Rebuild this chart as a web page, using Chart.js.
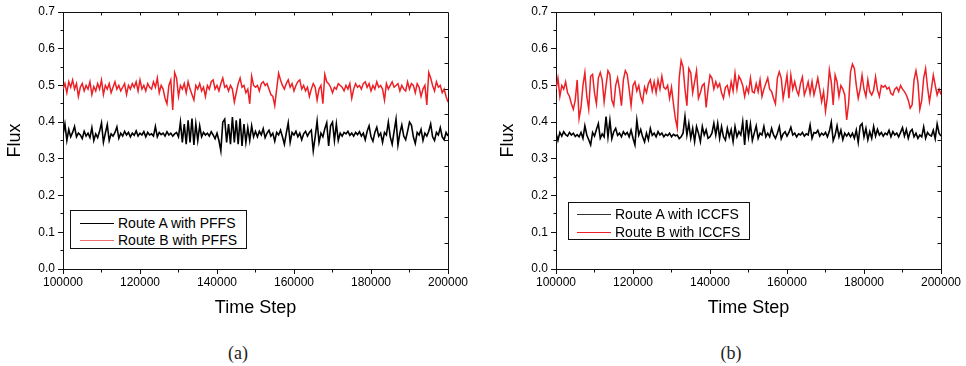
<!DOCTYPE html>
<html><head><meta charset="utf-8">
<script src="https://cdn.jsdelivr.net/npm/chart.js@4.4.1/dist/chart.umd.min.js"></script>
<style>
html,body{margin:0;padding:0;background:#fff;}
#wrap{position:relative;width:966px;height:366px;overflow:hidden;font-family:"Liberation Sans",Arial,sans-serif;}
canvas{position:absolute;top:0;}
.legend{position:absolute;border:1px solid #111;background:#fff;box-sizing:border-box;}
.row{position:absolute;left:0;height:18px;font-size:14px;line-height:18px;white-space:nowrap;color:#000;}
.row span{position:absolute;top:0;}
.sw{position:absolute;top:9px;height:0;border-top:1px solid;}
.cap{position:absolute;top:341px;width:60px;text-align:center;font-family:"Liberation Serif","DejaVu Serif",serif;font-size:18px;line-height:24px;color:#222;}
</style></head>
<body>
<div id="wrap">
  <canvas id="ca" width="483" height="320" style="left:0"></canvas>
  <canvas id="cb" width="483" height="320" style="left:483px"></canvas>
  <div class="legend" style="left:70px;top:210px;width:177px;height:39px">
    <div class="row" style="top:2.7px"><div class="sw" style="left:9px;width:34px;border-color:#000"></div><span style="left:47px">Route A with PFFS</span></div>
    <div class="row" style="top:20.3px"><div class="sw" style="left:9px;width:34px;border-color:rgb(240,110,110)"></div><span style="left:47px">Route B with PFFS</span></div>
  </div>
  <div class="legend" style="left:568px;top:202px;width:182px;height:38px">
    <div class="row" style="top:1.7px"><div class="sw" style="left:8px;width:34px;border-color:#333"></div><span style="left:46px">Route A with ICCFS</span></div>
    <div class="row" style="top:19.7px"><div class="sw" style="left:8px;width:34px;border-color:rgb(236,32,38)"></div><span style="left:46px">Route B with ICCFS</span></div>
  </div>
  <div class="cap" style="left:208px">(a)</div>
  <div class="cap" style="left:701px">(b)</div>
</div>
<script>
const START = 100000, STEP = 500;
const xTickLabels = ['100000','120000','140000','160000','180000','200000'];
const yTickLabels = ['0.0','0.1','0.2','0.3','0.4','0.5','0.6','0.7'];

const redA = [
0.49,0.505,0.48,0.51,0.495,0.515,0.49,0.505,0.47,0.495,
0.505,0.485,0.5,0.49,0.51,0.475,0.497,0.485,0.505,0.49,
0.515,0.475,0.5,0.49,0.505,0.48,0.495,0.51,0.49,0.5,
0.485,0.495,0.505,0.475,0.5,0.49,0.505,0.495,0.51,0.485,
0.515,0.49,0.5,0.485,0.505,0.495,0.49,0.51,0.495,0.52,
0.48,0.5,0.49,0.465,0.45,0.5,0.515,0.433,0.535,0.52,
0.47,0.5,0.49,0.505,0.48,0.51,0.49,0.475,0.46,0.5,
0.49,0.505,0.485,0.495,0.47,0.5,0.49,0.51,0.515,0.49,
0.5,0.485,0.505,0.52,0.495,0.5,0.485,0.5,0.49,0.455,
0.48,0.505,0.52,0.495,0.5,0.48,0.49,0.45,0.525,0.5,
0.495,0.5,0.485,0.505,0.51,0.5,0.505,0.49,0.475,0.47,
0.445,0.49,0.533,0.515,0.5,0.49,0.505,0.515,0.495,0.505,
0.485,0.5,0.51,0.515,0.49,0.5,0.485,0.495,0.47,0.49,
0.505,0.495,0.46,0.49,0.5,0.45,0.53,0.51,0.505,0.495,
0.48,0.495,0.49,0.505,0.5,0.495,0.485,0.5,0.49,0.505,
0.465,0.49,0.505,0.495,0.5,0.49,0.505,0.51,0.495,0.505,
0.485,0.5,0.49,0.51,0.495,0.5,0.49,0.46,0.505,0.49,
0.5,0.51,0.495,0.5,0.505,0.485,0.5,0.49,0.485,0.51,
0.49,0.505,0.5,0.48,0.505,0.495,0.47,0.49,0.5,0.447,
0.535,0.52,0.5,0.485,0.51,0.495,0.5,0.48,0.49,0.47,0.455];

const blackA = [
0.365,0.395,0.35,0.38,0.36,0.372,0.388,0.36,0.37,0.365,
0.355,0.375,0.362,0.37,0.358,0.385,0.35,0.368,0.358,0.375,
0.398,0.345,0.37,0.393,0.35,0.368,0.362,0.372,0.387,0.356,
0.37,0.362,0.375,0.365,0.372,0.36,0.37,0.364,0.376,0.362,
0.37,0.365,0.374,0.36,0.372,0.365,0.368,0.362,0.388,0.36,
0.372,0.366,0.37,0.362,0.374,0.365,0.37,0.362,0.368,0.372,
0.36,0.4,0.345,0.395,0.34,0.405,0.345,0.41,0.338,0.395,
0.35,0.39,0.36,0.372,0.365,0.37,0.362,0.374,0.365,0.355,
0.37,0.35,0.322,0.4,0.408,0.345,0.395,0.34,0.414,0.345,
0.405,0.34,0.41,0.335,0.395,0.345,0.385,0.35,0.39,0.36,
0.375,0.36,0.375,0.365,0.382,0.358,0.37,0.378,0.362,0.37,
0.348,0.372,0.365,0.378,0.36,0.34,0.37,0.398,0.345,0.372,
0.365,0.375,0.36,0.37,0.352,0.368,0.375,0.362,0.372,0.378,
0.322,0.36,0.403,0.345,0.37,0.36,0.382,0.398,0.335,0.39,
0.4,0.35,0.395,0.35,0.37,0.362,0.372,0.368,0.375,0.364,
0.37,0.362,0.372,0.366,0.374,0.362,0.37,0.352,0.375,0.39,
0.36,0.348,0.372,0.386,0.362,0.37,0.345,0.372,0.365,0.4,
0.36,0.34,0.375,0.408,0.338,0.37,0.392,0.362,0.352,0.375,
0.4,0.392,0.36,0.342,0.372,0.365,0.38,0.35,0.37,0.362,
0.375,0.395,0.36,0.35,0.372,0.365,0.385,0.36,0.352,0.372,0.362];

const redB = [
0.49,0.52,0.47,0.50,0.49,0.51,0.48,0.47,0.45,0.435,
0.46,0.515,0.41,0.44,0.50,0.535,0.47,0.435,0.525,0.53,
0.48,0.45,0.52,0.535,0.515,0.455,0.50,0.54,0.53,0.46,
0.445,0.50,0.52,0.49,0.445,0.515,0.54,0.53,0.49,0.445,
0.50,0.51,0.485,0.50,0.47,0.455,0.495,0.48,0.505,0.515,
0.485,0.51,0.48,0.515,0.49,0.525,0.495,0.49,0.50,0.465,
0.495,0.45,0.41,0.384,0.52,0.568,0.55,0.49,0.445,0.546,
0.535,0.48,0.51,0.54,0.465,0.48,0.50,0.505,0.44,0.49,
0.528,0.52,0.49,0.51,0.495,0.505,0.48,0.465,0.495,0.50,
0.475,0.51,0.485,0.533,0.49,0.525,0.515,0.50,0.47,0.495,
0.48,0.52,0.483,0.48,0.505,0.483,0.515,0.47,0.49,0.505,
0.52,0.49,0.483,0.465,0.45,0.52,0.537,0.52,0.465,0.495,
0.528,0.465,0.528,0.49,0.51,0.487,0.474,0.505,0.523,0.474,
0.49,0.51,0.478,0.51,0.474,0.495,0.52,0.49,0.456,0.483,
0.43,0.47,0.542,0.51,0.447,0.528,0.51,0.47,0.50,0.49,
0.474,0.406,0.45,0.537,0.558,0.546,0.50,0.465,0.49,0.528,
0.49,0.47,0.515,0.483,0.474,0.487,0.523,0.487,0.47,0.50,
0.495,0.50,0.49,0.495,0.478,0.474,0.49,0.495,0.483,0.50,
0.49,0.483,0.474,0.46,0.438,0.447,0.515,0.54,0.51,0.435,
0.46,0.52,0.546,0.495,0.456,0.49,0.528,0.50,0.474,0.49,0.475];

const blackB = [
0.37,0.35,0.372,0.362,0.374,0.366,0.362,0.372,0.365,0.37,
0.361,0.366,0.36,0.372,0.356,0.39,0.365,0.352,0.338,0.372,
0.362,0.38,0.396,0.356,0.368,0.36,0.415,0.36,0.405,0.355,
0.374,0.383,0.364,0.37,0.36,0.374,0.366,0.372,0.36,0.378,
0.356,0.338,0.405,0.365,0.38,0.36,0.346,0.37,0.352,0.383,
0.364,0.37,0.36,0.374,0.365,0.37,0.36,0.367,0.363,0.37,
0.36,0.367,0.363,0.365,0.355,0.36,0.37,0.415,0.365,0.397,
0.356,0.383,0.347,0.388,0.37,0.347,0.388,0.365,0.379,0.356,
0.36,0.37,0.397,0.365,0.397,0.356,0.388,0.36,0.351,0.383,
0.36,0.379,0.347,0.388,0.36,0.374,0.365,0.401,0.338,0.406,
0.36,0.395,0.35,0.37,0.39,0.356,0.37,0.365,0.388,0.36,
0.37,0.36,0.383,0.365,0.356,0.37,0.388,0.355,0.368,0.374,
0.362,0.372,0.386,0.365,0.37,0.36,0.368,0.365,0.372,0.362,
0.368,0.365,0.392,0.356,0.372,0.37,0.378,0.362,0.37,0.365,
0.372,0.36,0.375,0.4,0.35,0.365,0.39,0.36,0.378,0.352,
0.37,0.362,0.37,0.36,0.37,0.356,0.378,0.345,0.39,0.396,
0.36,0.383,0.352,0.374,0.356,0.388,0.362,0.38,0.365,0.372,
0.362,0.37,0.366,0.378,0.36,0.374,0.365,0.37,0.36,0.372,
0.385,0.362,0.38,0.356,0.374,0.38,0.36,0.37,0.356,0.365,
0.36,0.387,0.356,0.372,0.365,0.362,0.378,0.355,0.395,0.37,0.362];

Chart.defaults.font.family = "'Liberation Sans', Arial, sans-serif";
Chart.defaults.color = '#000';

const toPts = arr => arr.map((v, i) => ({x: START + i * STEP, y: v}));

const framePlugin = {
  id: 'frame',
  afterDraw(chart) {
    const {ctx, chartArea: a, scales: {x, y}} = chart;
    const al = p => Math.round(p - 0.5) + 0.5;
    ctx.save();
    ctx.strokeStyle = '#111';
    ctx.lineWidth = 1;
    ctx.beginPath();
    const T = al(a.top), R = al(a.right), L = al(a.left), B = al(a.bottom);
    ctx.moveTo(L, T); ctx.lineTo(R, T); ctx.lineTo(R, B);
    for (let v = 110000; v < 200000; v += 10000) {
      const px = al(x.getPixelForValue(v));
      ctx.moveTo(px, T); ctx.lineTo(px, T + 3);
    }
    for (let v = 110000; v < 200000; v += 20000) {
      const px = al(x.getPixelForValue(v));
      ctx.moveTo(px, B); ctx.lineTo(px, B + 3);
    }
    for (let v = 0.05; v < 0.7; v += 0.1) {
      const py = al(y.getPixelForValue(v));
      ctx.moveTo(L, py); ctx.lineTo(L - 3, py);
    }
    for (let k = 1; k < 10; k++) {
      const py = al(y.getPixelForValue(0.07 * k));
      ctx.moveTo(R, py); ctx.lineTo(R - 4, py);
    }
    ctx.stroke();
    ctx.restore();
  }
};

function makeChart(id, black, red, yW, rightPad, titlePad, blackColor) {
  return new Chart(document.getElementById(id), {
    type: 'line',
    data: {
      datasets: [
        {data: toPts(black), borderColor: blackColor, borderWidth: 1.6, pointRadius: 0, tension: 0},
        {data: toPts(red), borderColor: 'rgb(236,32,38)', borderWidth: 1.5, pointRadius: 0, tension: 0}
      ]
    },
    options: {
      responsive: false,
      animation: false,
      devicePixelRatio: 1,
      layout: {padding: {left: 0, right: rightPad, top: 12, bottom: 1}},
      plugins: {legend: {display: false}, tooltip: {enabled: false}},
      scales: {
        x: {
          type: 'linear', min: 100000, max: 200000,
          afterFit(s) { s.height = 50; },
          ticks: {stepSize: 20000, autoSkip: false, maxRotation: 0, padding: 1, color: '#000',
                  font: {size: 12},
                  callback: (v) => { const i = xTickLabels.indexOf(String(v)); return i >= 0 ? xTickLabels[i] : ''; }},
          grid: {drawOnChartArea: false, tickLength: 5, color: '#111'},
          border: {color: '#111', width: 1},
          title: {display: true, text: 'Time Step', font: {size: 18}, color: '#000', padding: {top: 0, bottom: 0}}
        },
        y: {
          type: 'linear', min: 0, max: 0.7,
          afterFit(s) { s.width = yW; },
          ticks: {stepSize: 0.1, padding: 3, color: '#000', font: {size: 12},
                  callback: (v) => yTickLabels[Math.round(v * 10)]},
          grid: {drawOnChartArea: false, tickLength: 5, color: '#111'},
          border: {color: '#111', width: 1},
          title: {display: true, text: 'Flux', font: {size: 18}, color: '#000', padding: {top: titlePad, bottom: 0}}
        }
      }
    },
    plugins: [framePlugin]
  });
}

makeChart('ca', blackA, redA, 63, 35, 4, '#000');
makeChart('cb', blackB, redB, 73, 25, 14, '#000');
</script>
</body></html>
